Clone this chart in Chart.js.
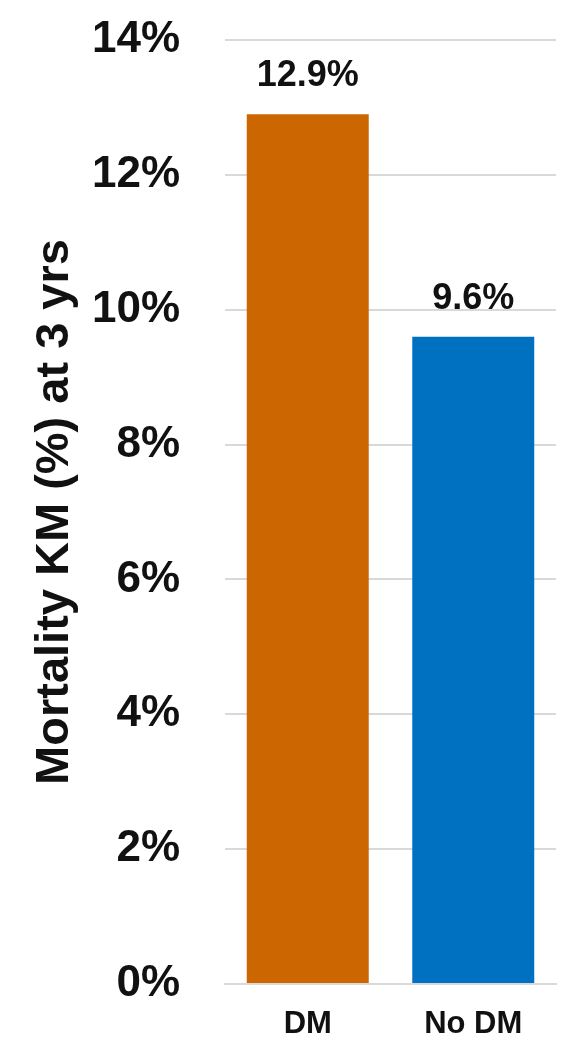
<!DOCTYPE html>
<html>
<head>
<meta charset="utf-8">
<script src="https://cdn.jsdelivr.net/npm/chart.js@4.4.1/dist/chart.umd.min.js"></script>
<style>
  html, body { margin: 0; padding: 0; background: #ffffff; }
  #wrap { width: 564px; height: 1038px; position: relative; }
</style>
</head>
<body>
<div id="wrap"><canvas id="c" width="564" height="1038"></canvas></div>
<script>
const categories = ["DM", "No DM"];
const mortality = [12.9, 9.6];
const barColors = ["#CC6600", "#0070C0"];
const yTicks = [0, 2, 4, 6, 8, 10, 12, 14];
const yTitle = "Mortality KM (%) at 3 yrs";

const FONT = "'Liberation Sans', Arial, Helvetica, sans-serif";

const valueLabels = {
  id: 'valueLabels',
  afterDatasetsDraw(chart) {
    const ctx = chart.ctx;
    const meta = chart.getDatasetMeta(0);
    ctx.save();
    ctx.font = "bold 36px " + FONT;
    ctx.fillStyle = "#111111";
    ctx.textAlign = "center";
    ctx.textBaseline = "alphabetic";
    meta.data.forEach((bar, i) => {
      ctx.fillText(mortality[i].toFixed(1) + "%", bar.x, bar.y - 28);
    });
    ctx.restore();
  }
};

new Chart(document.getElementById('c'), {
  type: 'bar',
  data: {
    labels: categories,
    datasets: [{
      data: mortality,
      backgroundColor: barColors,
      borderWidth: 0,
      barPercentage: 0.737,
      categoryPercentage: 1.0
    }]
  },
  options: {
    responsive: false,
    animation: false,
    devicePixelRatio: 1,
    layout: { padding: { top: 40, right: 8, left: 0, bottom: 0 } },
    plugins: {
      legend: { display: false },
      tooltip: { enabled: false }
    },
    scales: {
      x: {
        grid: { display: false, drawTicks: false },
        border: { display: true, color: "#D9D9D9", width: 2 },
        ticks: {
          color: "#111111",
          font: { family: FONT, size: 31, weight: 'bold' },
          padding: 22
        },
        afterFit(scale) { scale.height = 54; }
      },
      y: {
        min: 0,
        max: 14,
        afterBuildTicks(scale) { scale.ticks = yTicks.map(v => ({ value: v })); },
        grid: { color: "#D9D9D9", lineWidth: 2, drawTicks: false },
        border: { display: false },
        ticks: {
          color: "#111111",
          font: { family: FONT, size: 44, weight: 'bold' },
          padding: 45,
          callback: v => v + "%"
        },
        title: {
          display: true,
          text: yTitle,
          color: "#111111",
          font: { family: FONT, size: 47, weight: 'bold' },
          padding: { top: 27, bottom: 0 }
        },
        afterFit(scale) {
          scale.width = 225;
          scale.paddingTop = 0;
          scale.paddingBottom = 0;
        }
      }
    }
  },
  plugins: [valueLabels]
});
</script>
</body>
</html>
